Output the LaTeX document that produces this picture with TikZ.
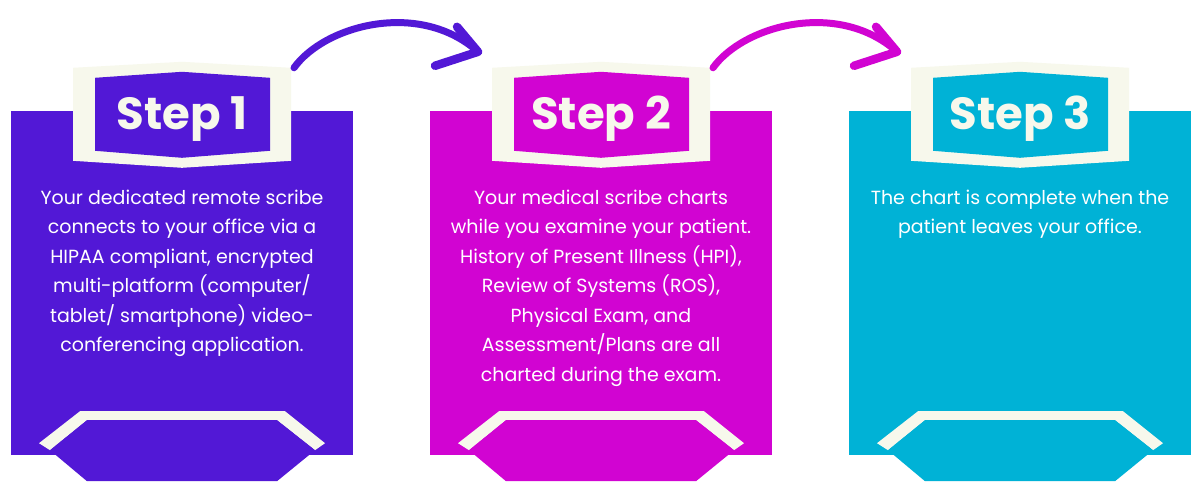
\documentclass[tikz,border=0pt]{standalone}
\usepackage{fontspec}
\setmainfont{Poppins}
\usepackage{tikz}
\usetikzlibrary{positioning}

\definecolor{stepone}{RGB}{82,24,214}
\definecolor{steptwo}{RGB}{209,4,210}
\definecolor{stepthree}{RGB}{0,178,214}
\definecolor{cream}{RGB}{247,248,236}

\begin{document}
\begin{tikzpicture}[x=1pt,y=-1pt,node distance=419pt,on grid,
        panel/.style={fill=#1,minimum width=342pt,minimum height=344pt,inner sep=0pt},
        steplabel/.style={text=cream,anchor=base,inner sep=0pt,font=\fontsize{45}{50}\selectfont\bfseries},
        body/.style={text=white,align=center,anchor=north,inner sep=0pt,font=\fontsize{19}{29.5}\selectfont},
        swoosh/.style={draw=#1,line width=7pt,line cap=round,line join=round},
        badge/.pic={
            \fill[cream] (-109,-43) -- (0,-49) -- (109,-43) -- (109,50) -- (0,57) -- (-109,50) -- cycle;
            \path[pic actions] (-87,-33) -- (0,-39) -- (88,-33) -- (88,40) -- (0,47) -- (-87,40) -- cycle;
            \coordinate (-tl) at (-109,-43);
            \coordinate (-tr) at (109,-43);
        },
        hexfoot/.pic={
            \fill[cream] (-143,-12) -- (-102,-44) -- (103,-44) -- (143,-12) -- (133,-5)
                -- (95,-35) -- (-95,-35) -- (-132,-5) -- cycle;
            \path[pic actions] (-132,-5) -- (-95,-35) -- (95,-35) -- (133,-5) -- (95,26) -- (-95,26) -- cycle;
        }]
        \fill[white] (0,0) rectangle (1200,500);
        \useasboundingbox (0,0) rectangle (1200,500);

        % panels
        \node[panel=stepone]   (panel1) at (182,283)     {};
        \node[panel=steptwo]   (panel2) [right=of panel1] {};
        \node[panel=stepthree] (panel3) [right=of panel2] {};

        % headers and feet
        \pic[fill=stepone]   (b1) at (panel1.north) {badge};
        \pic[fill=steptwo]   (b2) at (panel2.north) {badge};
        \pic[fill=stepthree] (b3) at (panel3.north) {badge};
        \pic[fill=stepone]   at (panel1.south) {hexfoot};
        \pic[fill=steptwo]   at (panel2.south) {hexfoot};
        \pic[fill=stepthree] at (panel3.south) {hexfoot};

        \node[steplabel] (step1) at ([yshift=-19pt]panel1.north) {Step 1};
        \node[steplabel] (step2) at ([yshift=-19pt]panel2.north) {Step 2};
        \node[steplabel] (step3) at ([yshift=-19pt]panel3.north) {Step 3};

        \node[body] (text1) at ([yshift=-79pt]panel1.north) {Your dedicated remote scribe\\
            connects to your office via a\\ HIPAA compliant, encrypted\\ multi-platform (computer/\\
            tablet/ smartphone) video-\\ conferencing application.};
        \node[body] (text2) at ([yshift=-79pt]panel2.north) {Your medical scribe charts\\
            while you examine your patient.\\ History of Present Illness (HPI),\\ Review of Systems (ROS),\\
            Physical Exam, and\\ Assessment/Plans are all\\ charted during the exam.};
        \node[body] (text3) at ([yshift=-79pt]panel3.north) {The chart is complete when the\\
            patient leaves your office.};

        % arrows between the steps
        \coordinate (tip1) at ([shift={(-14,-16)}]b2-tl);
        \coordinate (tip2) at ([shift={(-14,-16)}]b3-tl);
        \draw[swoosh=stepone] ([xshift=3pt]b1-tr) .. controls +(31,-43) and +(-58,-52) .. (tip1);
        \draw[swoosh=stepone,line width=8.5pt] (tip1) -- +(-21,-25) (tip1) -- +(-43,14);
        \draw[swoosh=steptwo] ([xshift=3pt]b2-tr) .. controls +(31,-43) and +(-58,-52) .. (tip2);
        \draw[swoosh=steptwo,line width=8.5pt] (tip2) -- +(-21,-25) (tip2) -- +(-43,14);
    \end{tikzpicture}
\end{document}
